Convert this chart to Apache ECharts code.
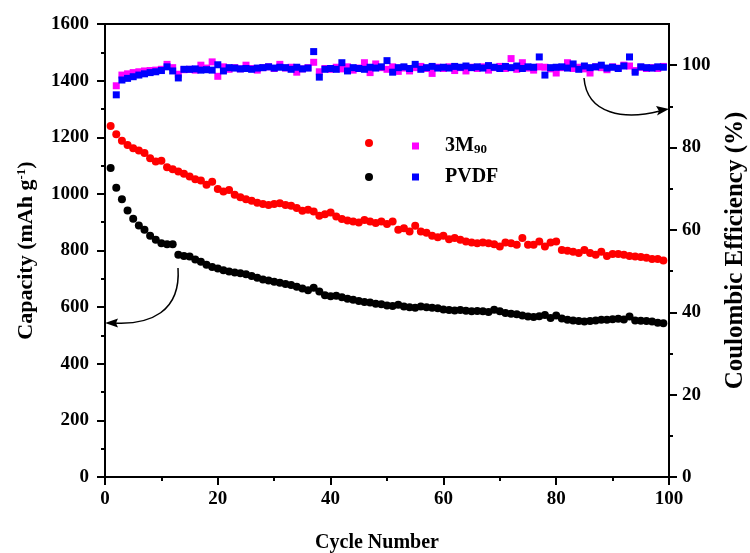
<!DOCTYPE html>
<html>
<head>
<meta charset="utf-8">
<script src="https://cdn.jsdelivr.net/npm/echarts@6/dist/echarts.min.js"></script>
<style>html,body{margin:0;padding:0;background:#fff}#c{width:750px;height:553px}</style>
</head>
<body>
<div id="c"></div>
<script>
// ---- data ----
var capCycles = [1,2,3,4,5,6,7,8,9,10,11,12,13,14,15,16,17,18,19,20,21,22,23,24,25,26,27,28,29,30,31,32,33,34,35,36,37,38,39,40,41,42,43,44,45,46,47,48,49,50,51,52,53,54,55,56,57,58,59,60,61,62,63,64,65,66,67,68,69,70,71,72,73,74,75,76,77,78,79,80,81,82,83,84,85,86,87,88,89,90,91,92,93,94,95,96,97,98,99];
var ceCycles = [2,3,4,5,6,7,8,9,10,11,12,13,14,15,16,17,18,19,20,21,22,23,24,25,26,27,28,29,30,31,32,33,34,35,36,37,38,39,40,41,42,43,44,45,46,47,48,49,50,51,52,53,54,55,56,57,58,59,60,61,62,63,64,65,66,67,68,69,70,71,72,73,74,75,76,77,78,79,80,81,82,83,84,85,86,87,88,89,90,91,92,93,94,95,96,97,98,99];

var cap3M90 = [1240,1211,1188,1173,1161,1153,1144,1126,1114,1117,1094,1087,1079,1071,1061,1052,1047,1032,1043,1017,1008,1014,997,988,981,976,969,964,961,964,967,961,958,950,940,944,938,923,928,934,920,911,906,902,899,908,902,897,902,894,902,873,879,867,887,867,863,852,847,852,840,844,838,832,828,826,828,826,822,814,828,826,820,844,820,820,832,814,828,832,802,799,796,791,802,791,785,796,781,788,788,785,781,779,777,774,770,770,765];
var capPVDF = [1091,1022,981,941,912,888,873,852,838,826,822,822,785,781,779,768,760,750,742,736,730,726,722,720,716,710,704,698,694,690,686,682,678,672,666,660,668,655,642,638,640,635,630,626,622,618,616,612,610,606,604,608,602,600,598,602,600,598,596,592,590,588,590,587,585,586,585,583,591,585,579,577,575,570,567,565,568,572,562,570,560,555,553,551,549,551,553,555,555,557,559,556,567,553,552,551,549,545,543];
var ce3M90 = [95.0,97.6,97.9,98.2,98.4,98.6,98.7,98.8,99.0,100.2,99.4,97.8,98.9,99.0,98.8,100.0,99.3,100.8,97.3,99.6,99.0,99.4,99.1,100.0,99.2,98.8,99.4,99.6,99.2,100.2,99.3,99.5,98.3,99.1,99.4,100.7,98.4,99.2,99.0,99.5,99.1,99.6,98.8,99.3,100.6,98.2,100.3,99.4,99.0,99.6,98.5,99.3,98.6,99.4,99.7,99.2,98.0,99.5,99.2,99.6,98.7,99.4,98.6,99.5,99.2,99.6,98.8,99.4,99.7,99.2,101.6,99.0,100.6,99.3,98.8,99.6,99.5,99.1,98.1,99.4,100.6,99.2,99.5,99.1,98.1,99.6,99.4,98.9,99.6,99.3,100.0,99.8,98.7,99.5,99.2,99.4,99.2,99.7];
var cePVDF = [92.8,96.4,96.8,97.2,97.6,97.9,98.2,98.4,98.7,99.6,98.6,96.9,99.0,99.0,99.1,98.8,98.9,98.8,100.1,98.6,99.4,99.3,99.1,99.2,99.0,99.3,99.4,99.6,99.3,99.5,99.4,99.0,99.5,99.1,99.3,103.3,97.1,99.0,99.2,99.0,100.6,98.6,99.4,99.2,99.0,99.5,99.3,99.6,101.1,98.3,99.4,99.6,99.2,100.2,99.0,99.4,99.7,99.3,99.5,99.3,99.7,99.5,99.8,99.4,99.6,99.3,99.9,99.5,99.2,99.7,99.4,99.8,99.2,99.6,99.5,102.0,97.6,99.4,99.5,99.6,99.3,100.3,99.0,99.8,99.4,99.6,100.0,99.3,99.5,99.2,99.8,102.0,98.3,99.6,99.4,99.3,99.6,99.5];

var xTicks = [0,20,40,60,80,100];
var capTicks = [0,200,400,600,800,1000,1200,1400,1600];
var ceTicks = [0,20,40,60,80,100];
var ceMinorTicks = [10,30,50,70,90];

function pairs(xs, ys){ return ys.map(function(v,i){ return [xs[i], v]; }); }
function plain(v){ return String(v); }

var FONT = '"Liberation Serif", "Times New Roman", serif';
var chart = echarts.init(document.getElementById('c'), null, {renderer:'canvas'});

var axisLine = {show:true, lineStyle:{color:'#000', width:2}};
var lbl = {color:'#000', fontFamily:FONT, fontWeight:'bold', fontSize:19, formatter:plain};

var legendBase = {orient:'horizontal', selectedMode:false, padding:0,
  textStyle:{color:'#000', fontFamily:FONT, fontWeight:'bold', fontSize:20,
    rich:{m:{fontFamily:FONT, fontWeight:'bold', fontSize:20, lineHeight:20, verticalAlign:'top', color:'#000'},
          s:{fontFamily:FONT, fontWeight:'bold', fontSize:13, lineHeight:13, verticalAlign:'bottom', padding:[10,0,0,0], color:'#000'}}}};

function legend(name, icon, w, left, top, fmt){
  return Object.assign({}, legendBase, {data:[name], icon:icon, itemWidth:w, itemHeight:w, left:left, top:top, itemGap:0,
    formatter: fmt, textStyle: Object.assign({}, legendBase.textStyle, {padding:[0,0,0,21]})});
}

var option = {
  animation:false,
  backgroundColor:'#fff',
  grid:{left:105, right:81, top:24, bottom:76, outerBoundsMode:'none', containLabel:false, show:true, borderColor:'#000', borderWidth:2, backgroundColor:'transparent'},
  legend:[
    legend('3M90 capacity','circle',8,365,139,function(){return '';}),
    legend('PVDF capacity','circle',8,365,173,function(){return '';}),
    legend('3M90','rect',7,412,133,function(){return '{m|3M}{s|90}';}),
    legend('PVDF','rect',7,412,167,function(){return '{m|PVDF}';})
  ],
  xAxis:{type:'value', min:0, max:100, interval:20,
    name:'Cycle Number', nameLocation:'middle', nameGap:56,
    nameTextStyle:{color:'#000', fontFamily:FONT, fontWeight:'bold', fontSize:20, padding:[0,20,0,0]},
    axisLine:axisLine, axisTick:{show:true, inside:false, length:8, lineStyle:{color:'#000', width:2}},
    minorTick:{show:true, splitNumber:2, length:4, lineStyle:{color:'#000', width:2}},
    axisLabel:Object.assign({margin:13}, lbl), splitLine:{show:false}},
  yAxis:[
    {type:'value', min:0, max:1600, interval:200, position:'left',
     name:'{a|Capacity (mAh g}{b|-1}{a|)}', nameLocation:'middle', nameGap:68, nameRotate:90,
     nameTextStyle:{color:'#000', rich:{a:{fontFamily:FONT, fontWeight:'bold', fontSize:22, lineHeight:22, verticalAlign:'bottom', color:'#000'},
                                        b:{fontFamily:FONT, fontWeight:'bold', fontSize:13, lineHeight:13, verticalAlign:'top', color:'#000'}}},
     axisLine:axisLine, axisTick:{show:true, inside:false, length:8, lineStyle:{color:'#000', width:2}},
     minorTick:{show:true, splitNumber:2, length:4, lineStyle:{color:'#000', width:2}},
     axisLabel:Object.assign({margin:16}, lbl), splitLine:{show:false}},
    {type:'value', min:0, max:110, position:'right',
     name:'Coulombic Efficiency (%)', nameLocation:'middle', nameGap:54, nameRotate:90,
     nameTextStyle:{color:'#000', fontFamily:FONT, fontWeight:'bold', fontSize:25},
     axisLine:axisLine, axisTick:{show:true, inside:false, length:8, customValues:ceTicks, lineStyle:{color:'#000', width:2}},
     axisLabel:Object.assign({margin:13, customValues:ceTicks}, lbl), splitLine:{show:false}},
    {type:'value', min:0, max:110, position:'right',
     axisLine:{show:false}, axisTick:{show:true, inside:false, length:4, customValues:ceMinorTicks, lineStyle:{color:'#000', width:2}},
     axisLabel:{show:false}, splitLine:{show:false}}
  ],
  series:[
    {name:'3M90 capacity', type:'scatter', yAxisIndex:0, symbol:'circle', symbolSize:8, itemStyle:{color:'#ff0000', opacity:1}, data:pairs(capCycles, cap3M90), z:3},
    {name:'PVDF capacity', type:'scatter', yAxisIndex:0, symbol:'circle', symbolSize:8, itemStyle:{color:'#000000', opacity:1}, data:pairs(capCycles, capPVDF), z:3},
    {name:'3M90', type:'scatter', yAxisIndex:1, symbol:'rect', symbolSize:7, itemStyle:{color:'#ff00ff', opacity:1}, data:pairs(ceCycles, ce3M90), z:3},
    {name:'PVDF', type:'scatter', yAxisIndex:1, symbol:'rect', symbolSize:7, itemStyle:{color:'#0000ff', opacity:1}, data:pairs(ceCycles, cePVDF), z:4}
  ],
  graphic:[
    {type:'bezierCurve', shape:{x1:178, y1:268, cpx1:181, cpy1:312, cpx2:150, cpy2:325, x2:114, y2:323}, style:{stroke:'#000', lineWidth:1.5, fill:null}, z:10},
    {type:'polygon', shape:{points:[[105,323],[118,318.5],[116,323],[118,327.5]]}, style:{fill:'#000'}, z:10},
    {type:'bezierCurve', shape:{x1:584, y1:78, cpx1:587, cpy1:115, cpx2:625, cpy2:120, x2:660, y2:111}, style:{stroke:'#000', lineWidth:1.5, fill:null}, z:10},
    {type:'polygon', shape:{points:[[669,109],[656,106],[659,111],[657,115.5]]}, style:{fill:'#000'}, z:10}
  ]
};
chart.setOption(option);
</script>
</body>
</html>
